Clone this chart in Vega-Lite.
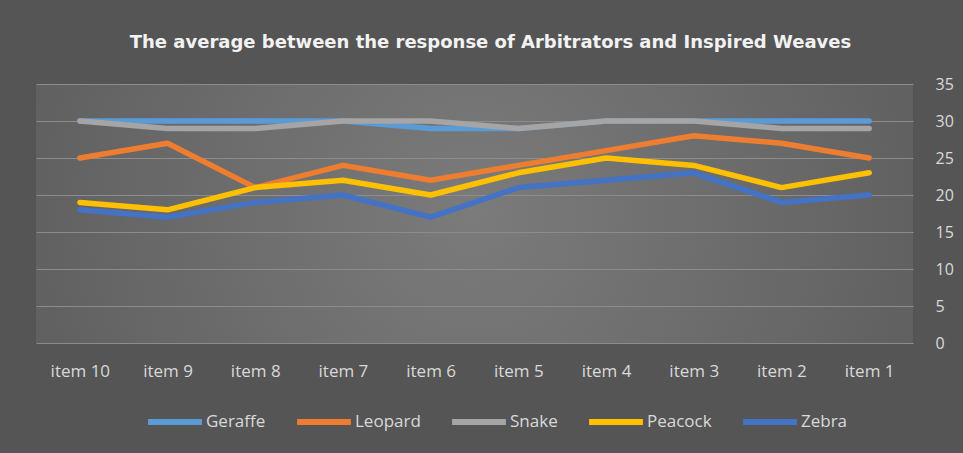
{
  "$schema": "https://vega.github.io/schema/vega-lite/v6.json",
  "width": 877,
  "height": 259,
  "autosize": {"type": "none"},
  "padding": {"left": 36, "top": 84, "right": 50, "bottom": 110},
  "background": "#555555",
  "view": {
    "stroke": null,
    "fill": {
      "gradient": "radial",
      "x1": 0.5, "y1": 0.5, "r1": 0,
      "x2": 0.5, "y2": 0.5, "r2": 0.72,
      "stops": [
        {"offset": 0, "color": "#7b7b7b"},
        {"offset": 1, "color": "#565656"}
      ]
    }
  },
  "title": {
    "text": "The average between the response of Arbitrators and Inspired Weaves",
    "color": "#f2f2f2",
    "font": "DejaVu Sans",
    "fontSize": 18,
    "fontWeight": "bold",
    "anchor": "middle",
    "dx": 16,
    "offset": 24
  },
  "data": {
    "values": [
      {"item": "item 10", "series": "Geraffe", "value": 30},
      {"item": "item 9", "series": "Geraffe", "value": 30},
      {"item": "item 8", "series": "Geraffe", "value": 30},
      {"item": "item 7", "series": "Geraffe", "value": 30},
      {"item": "item 6", "series": "Geraffe", "value": 29},
      {"item": "item 5", "series": "Geraffe", "value": 29},
      {"item": "item 4", "series": "Geraffe", "value": 30},
      {"item": "item 3", "series": "Geraffe", "value": 30},
      {"item": "item 2", "series": "Geraffe", "value": 30},
      {"item": "item 1", "series": "Geraffe", "value": 30},
      {"item": "item 10", "series": "Leopard", "value": 25},
      {"item": "item 9", "series": "Leopard", "value": 27},
      {"item": "item 8", "series": "Leopard", "value": 21},
      {"item": "item 7", "series": "Leopard", "value": 24},
      {"item": "item 6", "series": "Leopard", "value": 22},
      {"item": "item 5", "series": "Leopard", "value": 24},
      {"item": "item 4", "series": "Leopard", "value": 26},
      {"item": "item 3", "series": "Leopard", "value": 28},
      {"item": "item 2", "series": "Leopard", "value": 27},
      {"item": "item 1", "series": "Leopard", "value": 25},
      {"item": "item 10", "series": "Snake", "value": 30},
      {"item": "item 9", "series": "Snake", "value": 29},
      {"item": "item 8", "series": "Snake", "value": 29},
      {"item": "item 7", "series": "Snake", "value": 30},
      {"item": "item 6", "series": "Snake", "value": 30},
      {"item": "item 5", "series": "Snake", "value": 29},
      {"item": "item 4", "series": "Snake", "value": 30},
      {"item": "item 3", "series": "Snake", "value": 30},
      {"item": "item 2", "series": "Snake", "value": 29},
      {"item": "item 1", "series": "Snake", "value": 29},
      {"item": "item 10", "series": "Peacock", "value": 19},
      {"item": "item 9", "series": "Peacock", "value": 18},
      {"item": "item 8", "series": "Peacock", "value": 21},
      {"item": "item 7", "series": "Peacock", "value": 22},
      {"item": "item 6", "series": "Peacock", "value": 20},
      {"item": "item 5", "series": "Peacock", "value": 23},
      {"item": "item 4", "series": "Peacock", "value": 25},
      {"item": "item 3", "series": "Peacock", "value": 24},
      {"item": "item 2", "series": "Peacock", "value": 21},
      {"item": "item 1", "series": "Peacock", "value": 23},
      {"item": "item 10", "series": "Zebra", "value": 18},
      {"item": "item 9", "series": "Zebra", "value": 17},
      {"item": "item 8", "series": "Zebra", "value": 19},
      {"item": "item 7", "series": "Zebra", "value": 20},
      {"item": "item 6", "series": "Zebra", "value": 17},
      {"item": "item 5", "series": "Zebra", "value": 21},
      {"item": "item 4", "series": "Zebra", "value": 22},
      {"item": "item 3", "series": "Zebra", "value": 23},
      {"item": "item 2", "series": "Zebra", "value": 19},
      {"item": "item 1", "series": "Zebra", "value": 20}
    ]
  },
  "mark": {"type": "line", "strokeWidth": 5.5, "strokeCap": "round", "strokeJoin": "round"},
  "encoding": {
    "x": {
      "field": "item",
      "type": "nominal",
      "sort": ["item 10", "item 9", "item 8", "item 7", "item 6", "item 5", "item 4", "item 3", "item 2", "item 1"],
      "scale": {"type": "point", "padding": 0.5},
      "axis": {
        "title": null,
        "labelAngle": 0,
        "labelColor": "#d9d9d9",
        "labelFont": "Open Sans",
        "labelFontSize": 17,
        "labelPadding": 20,
        "ticks": false,
        "domain": false,
        "grid": false
      }
    },
    "y": {
      "field": "value",
      "type": "quantitative",
      "scale": {"domain": [0, 35], "nice": false},
      "axis": {
        "orient": "right",
        "title": null,
        "values": [0, 5, 10, 15, 20, 25, 30, 35],
        "labelColor": "#d9d9d9",
        "labelFont": "Open Sans",
        "labelFontSize": 16,
        "labelPadding": 22,
        "ticks": false,
        "domain": false,
        "grid": true,
        "gridColor": "#8c8c8c",
        "gridWidth": 1
      }
    },
    "color": {
      "field": "series",
      "type": "nominal",
      "scale": {
        "domain": ["Geraffe", "Leopard", "Snake", "Peacock", "Zebra"],
        "range": ["#5b9bd5", "#ed7d31", "#a5a5a5", "#ffc000", "#4472c4"]
      },
      "legend": {
        "orient": "none",
        "legendX": 109,
        "legendY": 308,
        "direction": "horizontal",
        "gridAlign": "none",
        "title": null,
        "symbolType": "stroke",
        "symbolSize": 2900,
        "symbolStrokeWidth": 6,
        "labelColor": "#d9d9d9",
        "labelFont": "Open Sans",
        "labelFontSize": 17,
        "labelOffset": 1,
        "columnPadding": 19
      }
    }
  }
}
